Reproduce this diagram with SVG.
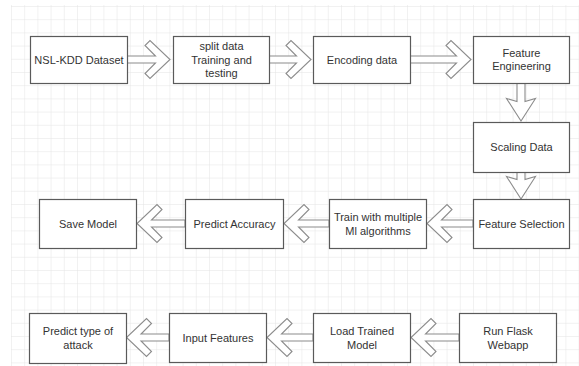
<svg xmlns="http://www.w3.org/2000/svg" width="579" height="366" viewBox="0 0 579 366">
<defs>
<pattern id="grid" x="11" y="6" width="13.2" height="13.2" patternUnits="userSpaceOnUse">
<path d="M0,0 H13.2 M0,0 V13.2" fill="none" stroke="#e4e4e4" stroke-width="1"/>
</pattern>
<style>
.box{fill:#fff;stroke:#5a5a5a;stroke-width:1.2}
.arr{fill:#fff;stroke:#8c8c8c;stroke-width:1.1;stroke-linejoin:miter}
.t{font-family:"Liberation Sans",Arial,sans-serif;font-size:11px;fill:#333;text-anchor:middle}
</style>
</defs>
<rect width="579" height="366" fill="#fff"/>
<rect x="11" y="5" width="568" height="361" fill="url(#grid)"/>
<g id="connectors">
<path class="arr" d="M127,56 L155.5,56 L145,45.5 L150,40.5 L170,59.5 L150,78.5 L145,73.5 L155.5,63 L127,63 Z"/>
<path class="arr" d="M269,56 L296.5,56 L286,45.5 L291,40.5 L311,59.5 L291,78.5 L286,73.5 L296.5,63 L269,63 Z"/>
<path class="arr" d="M410,56 L456.5,56 L446,45.5 L451,40.5 L471,59.5 L451,78.5 L446,73.5 L456.5,63 L410,63 Z"/>
<path class="arr" d="M517,83 L517,101.5 L506.5,98.5 L521,121 L535.5,98.5 L525,101.5 L525,83 Z"/>
<path class="arr" d="M517,172 L517,179.5 L506.5,176.5 L521,199 L535.5,176.5 L525,179.5 L525,172 Z"/>
<path class="arr" d="M473,220 L441.5,220 L452,209.5 L447,204.5 L427,223.5 L447,242.5 L452,237.5 L441.5,227 L473,227 Z"/>
<path class="arr" d="M329,220 L298.5,220 L309,209.5 L304,204.5 L284,223.5 L304,242.5 L309,237.5 L298.5,227 L329,227 Z"/>
<path class="arr" d="M185,220 L151.5,220 L162,209.5 L157,204.5 L137,223.5 L157,242.5 L162,237.5 L151.5,227 L185,227 Z"/>
<path class="arr" d="M459,334 L425.5,334 L436,323.5 L431,318.5 L411,337.5 L431,356.5 L436,351.5 L425.5,341 L459,341 Z"/>
<path class="arr" d="M313,334 L281.5,334 L292,323.5 L287,318.5 L267,337.5 L287,356.5 L292,351.5 L281.5,341 L313,341 Z"/>
<path class="arr" d="M169,334 L141,334 L151.5,323.5 L146.5,318.5 L126.5,337.5 L146.5,356.5 L151.5,351.5 L141,341 L169,341 Z"/>
</g>
<g id="n1"><rect class="box" x="30.5" y="36.5" width="97" height="47"/><text class="t" x="79" y="63.5">NSL-KDD Dataset</text></g>
<g id="n2"><rect class="box" x="173.5" y="36.5" width="96" height="47"/><text class="t" x="221.5" y="50">split data</text><text class="t" x="221.5" y="63.5">Training and</text><text class="t" x="221.5" y="77">testing</text></g>
<g id="n3"><rect class="box" x="313.5" y="36.5" width="97" height="47"/><text class="t" x="362" y="63.5">Encoding data</text></g>
<g id="n4"><rect class="box" x="473.5" y="36.5" width="96" height="47"/><text class="t" x="521.5" y="56.5">Feature</text><text class="t" x="521.5" y="70">Engineering</text></g>
<g id="n5"><rect class="box" x="473.5" y="122.5" width="96" height="50"/><text class="t" x="521.5" y="151">Scaling Data</text></g>
<g id="n6"><rect class="box" x="473.5" y="199.5" width="96" height="49"/><text class="t" x="521.5" y="227.5">Feature Selection</text></g>
<g id="n7"><rect class="box" x="329.5" y="199.5" width="97" height="49"/><text class="t" x="378" y="221">Train with multiple</text><text class="t" x="378" y="234.5">Ml algorithms</text></g>
<g id="n8"><rect class="box" x="185.5" y="199.5" width="98" height="49"/><text class="t" x="234.5" y="227.5">Predict Accuracy</text></g>
<g id="n9"><rect class="box" x="39.5" y="199.5" width="97" height="49"/><text class="t" x="88" y="227.5">Save Model</text></g>
<g id="n10"><rect class="box" x="29.5" y="313.5" width="97" height="50"/><text class="t" x="78" y="335">Predict type of</text><text class="t" x="78" y="348.5">attack</text></g>
<g id="n11"><rect class="box" x="169.5" y="313.5" width="97" height="49"/><text class="t" x="218" y="341.5">Input Features</text></g>
<g id="n12"><rect class="box" x="313.5" y="313.5" width="97" height="49"/><text class="t" x="362" y="335">Load Trained</text><text class="t" x="362" y="348.5">Model</text></g>
<g id="n13"><rect class="box" x="459.5" y="313.5" width="97" height="49"/><text class="t" x="508" y="335">Run Flask</text><text class="t" x="508" y="348.5">Webapp</text></g>
</svg>
